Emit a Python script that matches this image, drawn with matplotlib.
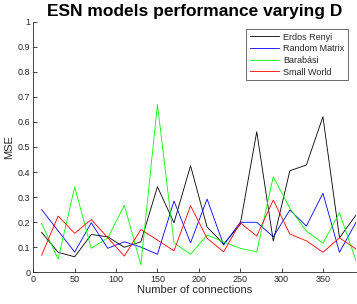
import matplotlib
matplotlib.use("Agg")
import matplotlib.pyplot as plt
import numpy as np

plt.rcParams['font.family'] = ['Liberation Sans', 'DejaVu Sans']

connections = list(range(10, 391, 20))
erdos_renyi = [0.159, 0.079, 0.061, 0.150, 0.141, 0.099, 0.121, 0.341, 0.197, 0.425,
               0.180, 0.112, 0.190, 0.561, 0.124, 0.405, 0.428, 0.621, 0.137, 0.228]
random_matrix = [0.250, 0.165, 0.080, 0.197, 0.095, 0.121, 0.100, 0.071, 0.284, 0.117,
                 0.292, 0.108, 0.199, 0.199, 0.141, 0.248, 0.184, 0.315, 0.079, 0.199]
barabasi = [0.195, 0.052, 0.340, 0.095, 0.137, 0.267, 0.029, 0.670, 0.117, 0.071,
            0.148, 0.121, 0.095, 0.081, 0.381, 0.255, 0.164, 0.115, 0.237, 0.045]
small_world = [0.067, 0.224, 0.155, 0.210, 0.137, 0.064, 0.170, 0.128, 0.085, 0.265,
               0.135, 0.081, 0.197, 0.144, 0.288, 0.152, 0.125, 0.079, 0.137, 0.092]

series_names = ['Erdos Renyi', 'Random Matrix', 'Barabási', 'Small World']
series_colors = ['#000000', '#0000ff', '#00ff00', '#ff0000']
xticks = [0, 50, 100, 150, 200, 250, 300, 350]
yticks = [0, 0.1, 0.2, 0.3, 0.4, 0.5, 0.6, 0.7, 0.8, 0.9, 1]
ytick_labels = ['0', '0.1', '0.2', '0.3', '0.4', '0.5', '0.6', '0.7', '0.8', '0.9', '1']

fig = plt.figure(figsize=(3.57, 3.04), dpi=100)
ax = fig.add_axes([0.0933, 0.105, 0.904, 0.823])

for vals, name, col in zip([erdos_renyi, random_matrix, barabasi, small_world],
                           series_names, series_colors):
    ax.plot(connections, vals, color=col, lw=0.6, label=name)

ax.set_xlim(0, 390)
ax.set_ylim(0, 1)
ax.set_xticks(xticks)
ax.set_xticklabels([str(t) for t in xticks])
ax.set_yticks(yticks)
ax.set_yticklabels(ytick_labels)
axcol = '#262626'
for s in ['top', 'right']:
    ax.spines[s].set_visible(False)
for s in ['left', 'bottom']:
    ax.spines[s].set_color(axcol)
    ax.spines[s].set_linewidth(0.6)
ax.tick_params(direction='in', length=3, width=0.6, colors=axcol, labelsize=6.5, pad=2)

ax.set_xlabel('Number of connections', fontsize=8, color=axcol, labelpad=1)
ax.set_ylabel('MSE', fontsize=8, color=axcol, labelpad=3)
ax.set_title('ESN models performance varying D', fontsize=12.5, fontweight='bold',
             color='black', pad=4)

leg = ax.legend(loc='upper right', bbox_to_anchor=(0.975, 0.972), fontsize=6.5,
                frameon=True, fancybox=False, handlelength=3.3, handletextpad=0.4,
                borderpad=0.4, labelspacing=0.3, borderaxespad=0)
leg.get_frame().set_edgecolor('#262626')
leg.get_frame().set_linewidth(0.6)
for t in leg.get_texts():
    t.set_color(axcol)

fig.savefig('out.png', dpi=100)
